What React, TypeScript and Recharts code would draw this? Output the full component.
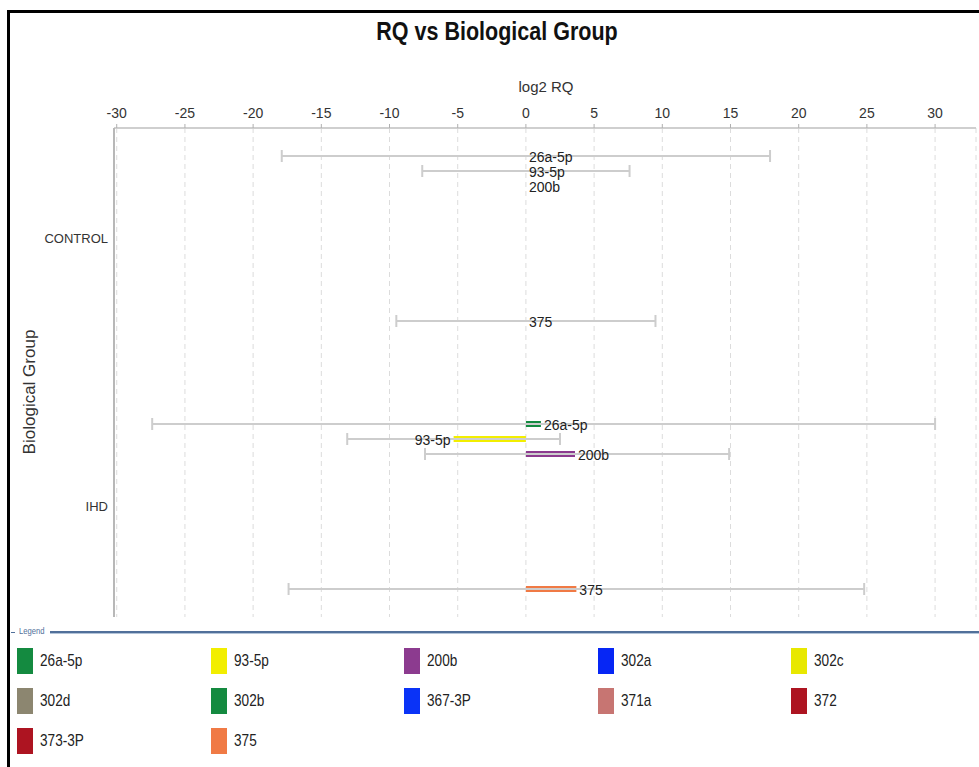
import { Bar, BarChart, CartesianGrid, Cell, ErrorBar, LabelList, XAxis, YAxis } from 'recharts';

const GROUPS = ['CONTROL', 'IHD'];

const TARGETS = ['26a-5p', '93-5p', '200b', '302a', '302c', '302d', '302b', '367-3P', '371a', '372', '373-3P', '375'];

const TARGET_COLORS = [
  '#148a40', '#f2ee00', '#8c3b8f', '#0626f5', '#e8e800', '#8c8670',
  '#148a40', '#0a33f7', '#c77572', '#ad1421', '#ad1421', '#f07a45',
];

// log2 RQ per target, null = not measured
const RQ_CONTROL = [0, 0, 0, null, null, null, null, null, null, null, null, 0];
const RQ_IHD = [1.1, -5.3, 3.6, null, null, null, null, null, null, null, null, 3.7];

// RQ min / max (log2)
const MIN_CONTROL = [-17.9, -7.6, null, null, null, null, null, null, null, null, null, -9.5];
const MAX_CONTROL = [17.9, 7.6, null, null, null, null, null, null, null, null, null, 9.5];
const MIN_IHD = [-27.4, -13.1, -7.4, null, null, null, null, null, null, null, null, -17.4];
const MAX_IHD = [30.0, 2.5, 14.9, null, null, null, null, null, null, null, null, 24.8];

const X_TICKS = [-30, -25, -20, -15, -10, -5, 0, 5, 10, 15, 20, 25, 30];

const ARIAL = '"Liberation Sans", Arial, sans-serif';

function buildRow(group: string, values: (number | null)[], mins: (number | null)[], maxs: (number | null)[]) {
  const row: Record<string, any> = { group };
  TARGETS.forEach((_, i) => {
    const v = values[i];
    const lo = mins[i];
    const hi = maxs[i];
    row[`v${i}`] = v;
    row[`e${i}`] = v == null || lo == null || hi == null ? null : [v - lo, hi - v];
  });
  return row;
}

const DATA = [
  buildRow(GROUPS[0], RQ_CONTROL, MIN_CONTROL, MAX_CONTROL),
  buildRow(GROUPS[1], RQ_IHD, MIN_IHD, MAX_IHD),
];

const hasErrors = (i: number) => DATA.some((r) => r[`e${i}`] != null);

const renderLabel = (name: string) => (props: any) => {
  const { value } = props;
  if (value == null) return null;
  const vb = props.viewBox ?? props;
  const x = Number(vb.x);
  const w = Number(vb.width) || 0;
  const y = Number(vb.y);
  const h = Number(vb.height) || 0;
  const neg = value < 0;
  // zero bars are drawn 1px wide (minPointSize), start the label at the zero line
  const right = value === 0 ? Math.min(x, x + w) : Math.max(x, x + w);
  const tx = neg ? Math.min(x, x + w) - 3 : right + 3;
  return (
    <text x={tx} y={y + h / 2 + 1} dy="0.35em" textAnchor={neg ? 'end' : 'start'} fontSize={14} fontFamily={ARIAL} fill="#222">
      {name}
    </text>
  );
};

function Legend() {
  return (
    <div>
      <div style={{ position: 'absolute', left: 11, top: 632, width: 4, height: 1, background: '#51709a' }} />
      <div
        style={{
          position: 'absolute',
          left: 19,
          top: 626,
          fontSize: 9,
          fontFamily: ARIAL,
          color: '#51709a',
          transform: 'scaleX(0.85)',
          transformOrigin: 'left center',
        }}
      >
        Legend
      </div>
      <div
        style={{
          position: 'absolute',
          left: 50,
          top: 631,
          width: 929,
          borderTop: '2px solid #51709a',
          borderBottom: '1px solid #b3c4d9',
        }}
      />
      {TARGETS.map((t, i) => {
        const col = i % 5;
        const row = Math.floor(i / 5);
        return (
          <div key={t} style={{ position: 'absolute', left: 17 + col * 193.5, top: 648 + row * 40, display: 'flex', alignItems: 'center' }}>
            <span style={{ display: 'inline-block', width: 16, height: 26, background: TARGET_COLORS[i] }} />
            <span
              style={{
                marginLeft: 7,
                fontSize: 17,
                fontFamily: ARIAL,
                color: '#222',
                display: 'inline-block',
                transform: 'scaleX(0.8)',
                transformOrigin: 'left center',
              }}
            >
              {t}
            </span>
          </div>
        );
      })}
    </div>
  );
}

export default function App() {
  return (
    <div style={{ position: 'absolute', left: 0, top: 0, width: 979, height: 767, background: '#fff', overflow: 'hidden' }}>
      <div style={{ position: 'absolute', left: 7, top: 10, width: 990, height: 780, borderLeft: '3px solid #000', borderTop: '3px solid #000' }} />
      <div
        style={{
          position: 'absolute',
          left: 497,
          top: 31,
          transform: 'translate(-50%, -50%) scaleX(0.86)',
          fontSize: 25,
          fontWeight: 'bold',
          fontFamily: ARIAL,
          color: '#111',
          whiteSpace: 'nowrap',
        }}
      >
        RQ vs Biological Group
      </div>
      <div
        style={{
          position: 'absolute',
          left: 546,
          top: 86,
          transform: 'translate(-50%, -50%)',
          fontSize: 15,
          fontFamily: ARIAL,
          color: '#333',
          whiteSpace: 'nowrap',
        }}
      >
        log2 RQ
      </div>
      <div
        style={{
          position: 'absolute',
          left: 30,
          top: 392,
          transform: 'translate(-50%, -50%) rotate(-90deg)',
          fontSize: 17,
          fontFamily: ARIAL,
          color: '#333',
          whiteSpace: 'nowrap',
        }}
      >
        Biological Group
      </div>
      <div style={{ position: 'absolute', left: 0, top: 0 }}>
        <BarChart
          width={979}
          height={630}
          data={DATA}
          layout="vertical"
          margin={{ top: 86, right: 3, bottom: 13, left: 0 }}
          barGap={9}
        >
          <CartesianGrid horizontal={false} stroke="#dcdcdc" strokeDasharray="5 4" />
          <XAxis
            type="number"
            orientation="top"
            domain={[-30.2, 33]}
            ticks={X_TICKS}
            height={42}
            allowDataOverflow
            interval={0}
            tickSize={4}
            tickMargin={6}
            axisLine={{ stroke: '#cfcfcf', strokeWidth: 2 }}
            tickLine={{ stroke: '#b0b0b0' }}
            tick={{ fill: '#333', fontSize: 14, fontFamily: ARIAL }}
          />
          <XAxis
            xAxisId="bottom"
            type="number"
            orientation="bottom"
            domain={[-30.2, 33]}
            height={0}
            tick={false}
            tickLine={false}
            axisLine={{ stroke: '#d4d4d4', strokeWidth: 2 }}
          />
          <YAxis
            type="category"
            dataKey="group"
            width={114}
            padding={{ top: -24, bottom: -23 }}
            tickSize={0}
            tickMargin={6}
            axisLine={{ stroke: '#b8b8b8', strokeWidth: 2 }}
            tick={{ fill: '#333', fontSize: 13, fontFamily: ARIAL }}
          />
          <YAxis
            yAxisId="right"
            type="category"
            dataKey="group"
            orientation="right"
            width={0}
            tick={false}
            tickLine={false}
            axisLine={{ stroke: '#e0e0e0' }}
          />
          {TARGETS.map((t, i) => (
            <Bar
              key={t}
              dataKey={`v${i}`}
              name={t}
              fill={TARGET_COLORS[i]}
              barSize={6}
              minPointSize={1}
              isAnimationActive={false}
            >
              {DATA.map((row) => (
                <Cell key={row.group} fill={row[`v${i}`] === 0 ? 'transparent' : TARGET_COLORS[i]} />
              ))}
              {hasErrors(i) && (
                <ErrorBar dataKey={`e${i}`} direction="x" width={6} stroke="#cdcdcd" strokeWidth={2} />
              )}
              <LabelList dataKey={`v${i}`} content={renderLabel(t)} />
            </Bar>
          ))}
        </BarChart>
      </div>
      <Legend />
    </div>
  );
}
